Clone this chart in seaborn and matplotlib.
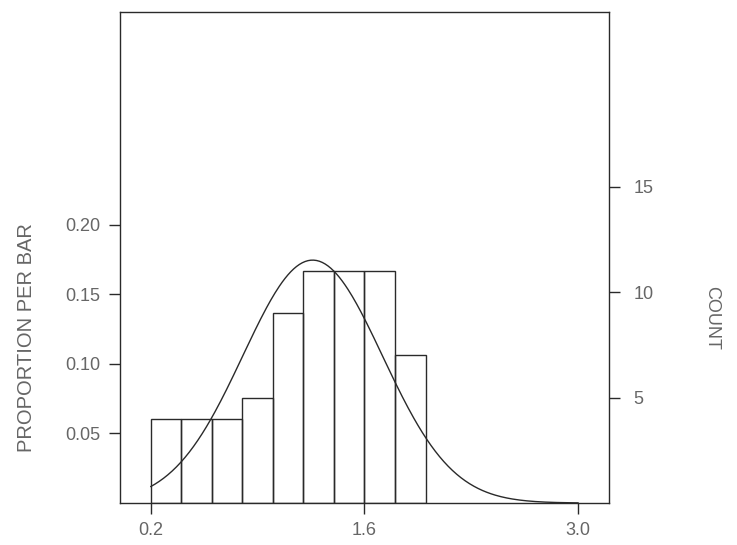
import numpy as np
import pandas as pd
import matplotlib
matplotlib.use("Agg")
import matplotlib.pyplot as plt
import seaborn as sns

# ---- data ----
bin_edges = [0.2, 0.4, 0.6, 0.8, 1.0, 1.2, 1.4, 1.6, 1.8, 2.0]
bin_counts = [4, 4, 4, 5, 9, 11, 11, 11, 7]
x_ticks = [0.2, 1.6, 3.0]
x_tick_labels = ["0.2", "1.6", "3.0"]
y_ticks = [0.05, 0.10, 0.15, 0.20]
y_tick_labels = ["0.05", "0.10", "0.15", "0.20"]
count_ticks = [5, 10, 15]
count_tick_labels = ["5", "10", "15"]

sns.set_theme(style="white")
plt.rcParams["font.family"] = ["Liberation Sans", "DejaVu Sans"]

edges = np.array(bin_edges)
counts = np.array(bin_counts, dtype=float)
mids = (edges[:-1] + edges[1:]) / 2
total = counts.sum()
width = edges[1] - edges[0]
df = pd.DataFrame({"value": mids, "n": counts})

# normal curve fitted to the data (mean, sd of the histogram)
mu = (mids * counts).sum() / total
sd = np.sqrt(((mids - mu) ** 2 * counts).sum() / total)
xs = np.linspace(0.2, 3.0, 300)
curve = pd.DataFrame({"x": xs,
                      "y": width * np.exp(-0.5 * ((xs - mu) / sd) ** 2) / (sd * np.sqrt(2 * np.pi))})

line_col = "#2a2a2a"
text_col = "#666666"

fig = plt.figure(figsize=(7.37, 5.45), dpi=100)
ax = fig.add_axes([0.163, 0.077, 0.663, 0.901])

sns.histplot(data=df, x="value", weights="n", bins=bin_edges, stat="proportion",
             fill=False, element="bars", color=line_col, linewidth=1.0, ax=ax)
sns.lineplot(data=curve, x="x", y="y", color=line_col, linewidth=1.0, ax=ax)

ax.set_xlim(0.0, 3.2)
ax.set_ylim(0.0, 0.353)
ax.set_xticks(x_ticks)
ax.set_xticklabels(x_tick_labels)
ax.set_yticks(y_ticks)
ax.set_yticklabels(y_tick_labels)
ax.set_xlabel("")
ax.set_ylabel("PROPORTION PER BAR", fontsize=14.5, color=text_col)
ax.yaxis.set_label_coords(-0.172, 0.336)
ax.tick_params(axis="both", direction="out", length=8, width=1, colors=line_col,
               labelcolor=text_col, labelsize=13, left=True, bottom=True, pad=6)
for s in ax.spines.values():
    s.set_visible(True)
    s.set_color(line_col)
    s.set_linewidth(1.0)

ax2 = ax.twinx()
ax2.set_ylim(0.0, 0.353 * total)
ax2.set_yticks(count_ticks)
ax2.set_yticklabels(count_tick_labels)
ax2.set_ylabel("COUNT", rotation=270, fontsize=13, color=text_col, va="center")
ax2.yaxis.set_label_coords(1.21, 0.377)
ax2.tick_params(axis="y", direction="out", length=8, width=1, colors=line_col,
                labelcolor=text_col, labelsize=13, right=True, pad=10)
for s in ax2.spines.values():
    s.set_visible(False)

fig.savefig("out.png", dpi=100, facecolor="white")
